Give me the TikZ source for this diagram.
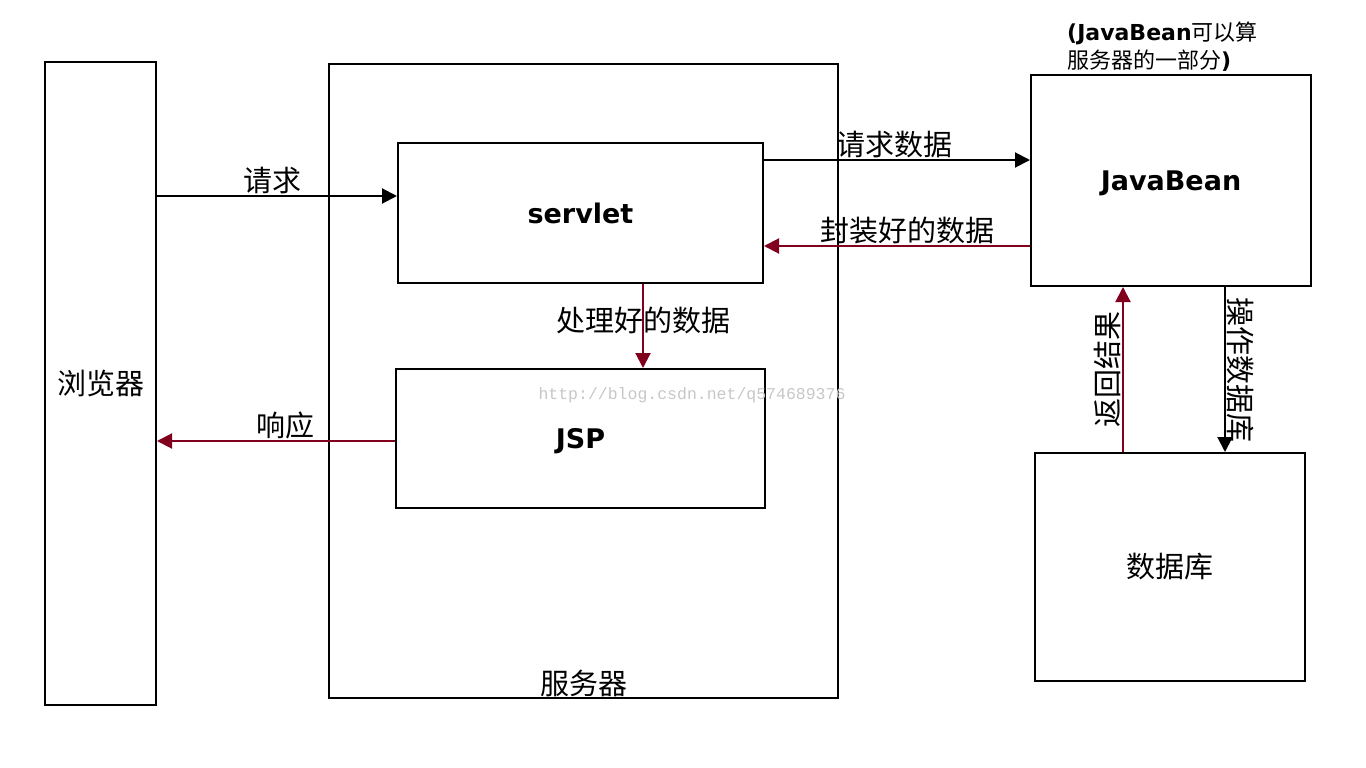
\documentclass[tikz,border=0pt]{standalone}
\usepackage{fontspec}
\newfontfamily\cjk{Noto Sans CJK SC}
\newfontfamily\verd{DejaVu Sans}
\newfontfamily\wmark{Liberation Mono}
\usetikzlibrary{arrows.meta,positioning}
\definecolor{darkRed}{RGB}{128,0,30}

\begin{document}
\begin{tikzpicture}[
  x=1pt,y=-1pt,
  box/.style={draw,line width=2pt,rectangle,inner sep=0pt},
  boxCJK/.style={box,font=\cjk\fontsize{29}{34}\selectfont},
  boxBold/.style={box,font=\verd\bfseries\fontsize{27}{32}\selectfont,text depth=0pt},
  arrowText/.style={font=\cjk\fontsize{29}{34}\selectfont,inner sep=1pt,text=black},
  noteText/.style={font=\fontsize{22}{28}\selectfont,align=left,inner sep=0pt},
  forward/.style={-{Triangle[length=15pt,width=15pt]},line width=2pt,black},
  backward/.style={-{Triangle[length=15pt,width=15pt]},line width=2pt,darkRed},
  every node/.style={align=center}]

  \useasboundingbox (0,0) rectangle (1366,768);

  % boxes
  \node[boxCJK, minimum width=111pt, minimum height=643pt] (bBrowser) at (100.5,383.5) {浏览器};
  \node[box, minimum width=509pt, minimum height=634pt] (bServer) at (583.5,381) {};
  \node[boxBold, minimum width=365pt, minimum height=140pt] (bServlet) at (580.5,213) {servlet};
  \node[boxBold, minimum width=369pt, minimum height=139pt] (bJSP) at (580.5,438.5) {JSP};
  \node[boxBold, minimum width=280pt, minimum height=211pt] (bBean) at (1171,180.5) {JavaBean};
  \node[boxCJK, minimum width=270pt, minimum height=228pt] (bDB) at (1170,567) {数据库};

  % captions
  \node[arrowText, above=1pt of bServer.south] (tServer) {服务器};
  \node[noteText, anchor=south west] (tNote) at ([xshift=37pt,yshift=2pt]bBean.north west)
    {{\verd\bfseries (JavaBean}{\cjk 可以算}\\{\cjk 服务器的一部分}{\verd\bfseries )}};

  % arrow ends
  \coordinate (pRequest) at ([yshift=17pt]bServlet.west);
  \coordinate (pAsk) at ([yshift=53pt]bServlet.east);
  \coordinate (pPacked) at ([yshift=-33pt]bServlet.east);
  \coordinate (pProcessed) at ([xshift=62.5pt]bServlet.south);
  \coordinate (pResponse) at ([yshift=-2.5pt]bJSP.west);
  \coordinate (pResult) at ([xshift=-48pt]bBean.south);
  \coordinate (pOperate) at ([xshift=54pt]bBean.south);

  % browser and server
  \path [forward] (bBrowser.east |- pRequest) edge node[arrowText,above,pos=0.48] {请求} (pRequest);
  \path [backward] (pResponse) edge node[arrowText,above,pos=0.46] {响应} (bBrowser.east |- pResponse);

  % servlet and bean
  \path [forward] (pAsk) edge node[arrowText,above,pos=0.49] {请求数据} (bBean.west |- pAsk);
  \path [backward] (bBean.west |- pPacked) edge node[arrowText,above,pos=0.46] {封装好的数据} (pPacked);

  % servlet to JSP
  \path [backward] (pProcessed) edge node[arrowText,pos=0.43] {处理好的数据} (bJSP.north -| pProcessed);

  % bean and database
  \path [backward] (bDB.north -| pResult) edge node[arrowText,above,rotate=90] {返回结果} (pResult);
  \path [forward] (pOperate) edge node[arrowText,above,rotate=-90] {操作数据库} (bDB.north -| pOperate);

  % watermark
  \node[font=\wmark\fontsize{16.5}{20}\selectfont, text=black!22] (tMark) at (692,395) {http://blog.csdn.net/q574689376};

\end{tikzpicture}
\end{document}
